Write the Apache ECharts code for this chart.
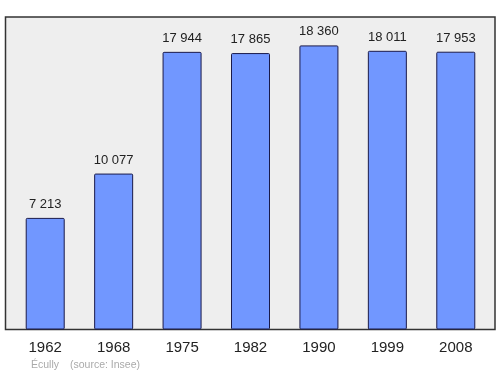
<!DOCTYPE html>
<html>
<head>
<meta charset="utf-8">
<script src="https://cdn.jsdelivr.net/npm/echarts@6/dist/echarts.min.js"></script>
<style>html,body{margin:0;padding:0;background:#fff}#c{width:500px;height:374px}</style>
</head>
<body>
<div id="c"></div>
<script>
var years = ['1962', '1968', '1975', '1982', '1990', '1999', '2008'];
var population = [7213, 10077, 17944, 17865, 18360, 18011, 17953];
var footerPlace = 'Écully';
var footerSource = '(source: Insee)';

function fmt(v) { return String(v).replace(/\B(?=(\d{3})+(?!\d))/g, ' '); }

var FONT = '"Liberation Sans", Arial, sans-serif';
var chart = echarts.init(document.getElementById('c'), null, {renderer: 'canvas'});
chart.setOption({
  animation: false,
  backgroundColor: '#ffffff',
  grid: {left: 11, right: 10, top: 17, bottom: 44.5, containLabel: false},
  xAxis: {
    type: 'category',
    data: years,
    axisLine: {show: false},
    axisTick: {show: false},
    axisLabel: {fontFamily: FONT, fontSize: 15, color: '#222', margin: 11}
  },
  yAxis: {type: 'value', min: 0, max: 20196, show: false, splitLine: {show: false}},
  graphic: [
    {type: 'rect', z: -10, shape: {x: 5.5, y: 17, width: 489.5, height: 312.5},
     style: {fill: '#eeeeee', stroke: '#333333', lineWidth: 1.5}},
    {type: 'text', left: 31, top: 360, z: 10,
     style: {text: footerPlace, fontFamily: FONT, fontSize: 10.5, fill: '#aaaaaa'}},
    {type: 'text', left: 70, top: 360, z: 10,
     style: {text: footerSource, fontFamily: FONT, fontSize: 10.5, fill: '#aaaaaa'}}
  ],
  series: [{
    type: 'bar',
    data: population,
    barWidth: 39,
    itemStyle: {color: '#7197ff', borderColor: '#1a1a4a', borderWidth: 1, borderRadius: 1},
    label: {show: true, position: 'top', distance: 7, formatter: function (p) { return fmt(p.value); },
            fontFamily: FONT, fontSize: 13, color: '#222'}
  }]
});
</script>
</body>
</html>
